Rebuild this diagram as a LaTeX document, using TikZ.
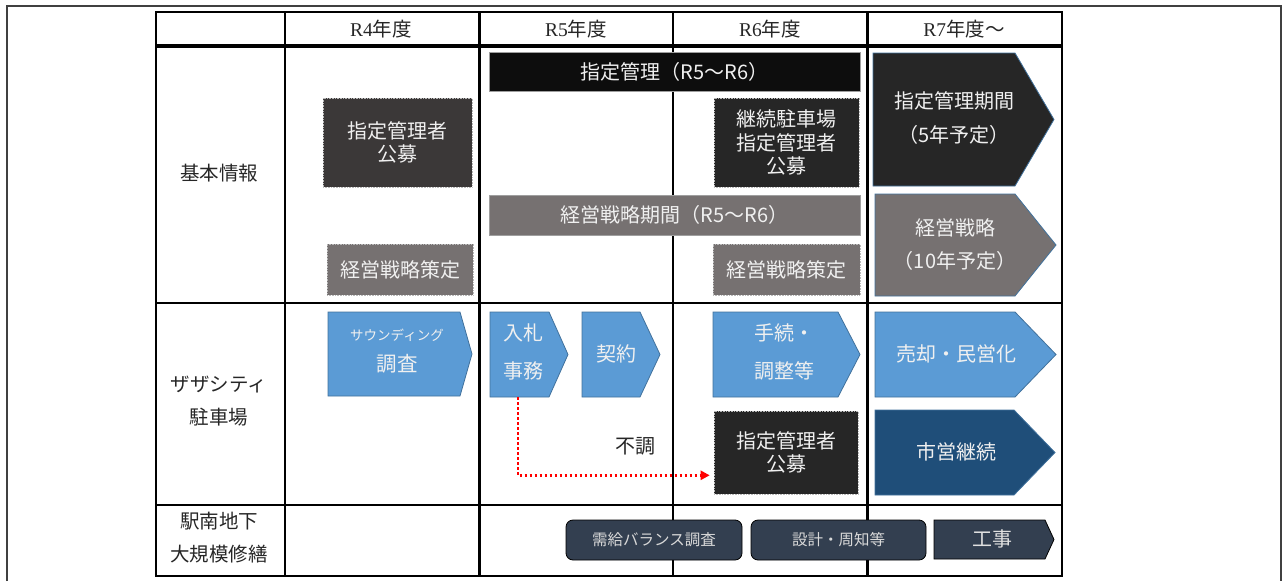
\documentclass[tikz,border=0pt]{standalone}
\usepackage{fontspec}
\setmainfont{Noto Sans CJK JP}
\newfontfamily\latinserif{Liberation Serif}
\usetikzlibrary{arrows.meta}

\definecolor{blackbar}{HTML}{0D0D0D}
\definecolor{darkgray}{HTML}{3B3838}
\definecolor{nearblack}{HTML}{262626}
\definecolor{stonegray}{HTML}{767171}
\definecolor{skyblue}{HTML}{5B9BD5}
\definecolor{edgeblue}{HTML}{41719C}
\definecolor{navyblue}{HTML}{1F4E79}
\definecolor{slate}{HTML}{333F50}
\definecolor{boxtext}{HTML}{F0F0F0}

\tikzset{
  box/.style={rectangle, inner sep=0pt, align=center, text=boxtext,
    font=\fontsize{20}{23.5}\selectfont},
  dotbox/.style={box, draw=gray!55, densely dotted, line width=0.6pt},
  barbox/.style={box, draw=gray!75, line width=1pt},
  arrowshape/.style={draw=edgeblue, line width=0.8pt},
  roundbox/.style={box, draw=black, line width=0.8pt, rounded corners=7pt,
    fill=slate, text=white!85!black, font=\fontsize{15.5}{18}\selectfont},
  rowlabel/.style={align=center, text=black!85, font=\fontsize{19.5}{33}\selectfont},
  yearlabel/.style={text=black!85, font=\fontsize{19.5}{22}\selectfont},
  grid/.style={black, line width=2pt}
}

\begin{document}
\begin{tikzpicture}[x=1pt, y=-1pt]
    \useasboundingbox (0,0) rectangle (1287,581);

    % outer frame
    \draw [black!75, line width=1.5pt] (7,581) -- (7,6) -- (1281,6) -- (1281,581);

    % table
    \draw [grid] (156,12) rectangle (1062,576);
    \draw [black, line width=3.5pt] (156,46) -- (1062,46);
    \draw [grid] (156,303) -- (1062,303);
    \draw [grid] (156,505) -- (1062,505);
    \draw [grid] (285,12) -- (285,576);
    \draw [black, line width=3pt] (479,12) -- (479,576);
    \draw [black, line width=1.5pt] (673,12) -- (673,576);
    \draw [black, line width=3pt] (867,12) -- (867,576);

    % header
    \node [yearlabel] (r4) at (381,29) {{\latinserif R4}年度};
    \node [yearlabel] (r5) at (576,29) {{\latinserif R5}年度};
    \node [yearlabel] (r6) at (770,29) {{\latinserif R6}年度};
    \node [yearlabel] (r7) at (964,29) {{\latinserif R7}年度〜};

    % row labels
    \node [rowlabel] (kihon) at (219,173) {基本情報};
    \node [rowlabel] (zaza) at (219,401) {ザザシティ\\駐車場};
    \node [rowlabel] (ekinan) at (219,538) {駅南地下\\大規模修繕};

    % row 1
    \node [barbox, fill=blackbar, minimum width=371, minimum height=39] (shitei) at (674.5,71.5) {指定管理（R5〜R6）};
    \node [dotbox, fill=darkgray, minimum width=149, minimum height=89] (kobo4) at (397.5,142.5) {指定管理者\\公募};
    \node [dotbox, fill=nearblack, minimum width=145, minimum height=89] (keizoku) at (786.5,142.5) {継続駐車場\\指定管理者\\公募};
    \node [barbox, fill=stonegray, minimum width=371, minimum height=40] (keiei) at (674.5,215) {経営戦略期間（R5〜R6）};
    \node [dotbox, fill=stonegray, minimum width=146, minimum height=51] (sakutei4) at (400,269.5) {経営戦略策定};
    \node [dotbox, fill=stonegray, minimum width=147, minimum height=51] (sakutei6) at (786.5,269.5) {経営戦略策定};

    \draw [arrowshape, fill=nearblack] (873,53) -- (1015,53) -- (1054,119.5) -- (1015,186) -- (873,186) -- cycle;
    \node [box, font=\fontsize{20}{34}\selectfont] (kikan) at (954,118) {指定管理期間\\（5年予定）};
    \draw [arrowshape, fill=stonegray] (875,194) -- (1015,194) -- (1056,245) -- (1015,296) -- (875,296) -- cycle;
    \node [box, font=\fontsize{20}{33}\selectfont] (senryaku) at (955,244.5) {経営戦略\\（10年予定）};

    % row 2
    \draw [arrowshape, fill=skyblue] (328,312) -- (460,312) -- (472,354) -- (460,396) -- (328,396) -- cycle;
    \node [box, font=\fontsize{20.5}{24}\selectfont] (sounding) at (397,351) {{\fontsize{13.5}{16}\selectfont サウンディング}\\[7pt]調査};
    \coordinate (nyubot) at (518,397);
    \draw [arrowshape, fill=skyblue] (490,312) -- (549,312) -- (568,354.5) -- (549,397) -- (490,397) -- cycle;
    \node [box, font=\fontsize{20}{38}\selectfont] (nyusatsu) at (523,352) {入札\\事務};
    \draw [arrowshape, fill=skyblue] (582,312) -- (640,312) -- (660,354.5) -- (640,397) -- (582,397) -- cycle;
    \node [box] (keiyaku) at (616,354) {契約};
    \draw [arrowshape, fill=skyblue] (713,312) -- (838,312) -- (860,354.5) -- (838,397) -- (713,397) -- cycle;
    \node [box, font=\fontsize{20}{38}\selectfont] (tetsuzuki) at (784,352) {手続・\\調整等};
    \draw [arrowshape, fill=skyblue] (875,312) -- (1015,312) -- (1056,354.5) -- (1015,397) -- (875,397) -- cycle;
    \node [box] (baikyaku) at (956,354) {売却・民営化};
    \node [dotbox, fill=nearblack, minimum width=144, minimum height=83] (kobo6) at (786,452.5) {指定管理者\\公募};
    \draw [arrowshape, fill=navyblue] (875,410) -- (1014,410) -- (1055,452.5) -- (1014,495) -- (875,495) -- cycle;
    \node [box] (shiei) at (956,452) {市営継続};
    \node [text=black!85, font=\fontsize{20}{23}\selectfont] (fucho) at (635,446) {不調};

    \draw [red, line width=2.5pt, dash pattern=on 2.5pt off 2.5pt, -{Triangle[length=9pt, width=9pt]}]
        (nyubot) |- ([xshift=-4pt, yshift=19pt]kobo6.south west);

    % row 3
    \node [roundbox, minimum width=176, minimum height=40] (jukyu) at (654,540) {需給バランス調査};
    \node [roundbox, minimum width=175, minimum height=40] (sekkei) at (838.5,540) {設計・周知等};
    \draw [black, line width=0.8pt, fill=slate] (934,520) -- (1045,520) -- (1054,539.5) -- (1045,559) -- (934,559) -- cycle;
    \node [box, text=white!88!black] (koji) at (992,539) {工事};
\end{tikzpicture}
\end{document}
